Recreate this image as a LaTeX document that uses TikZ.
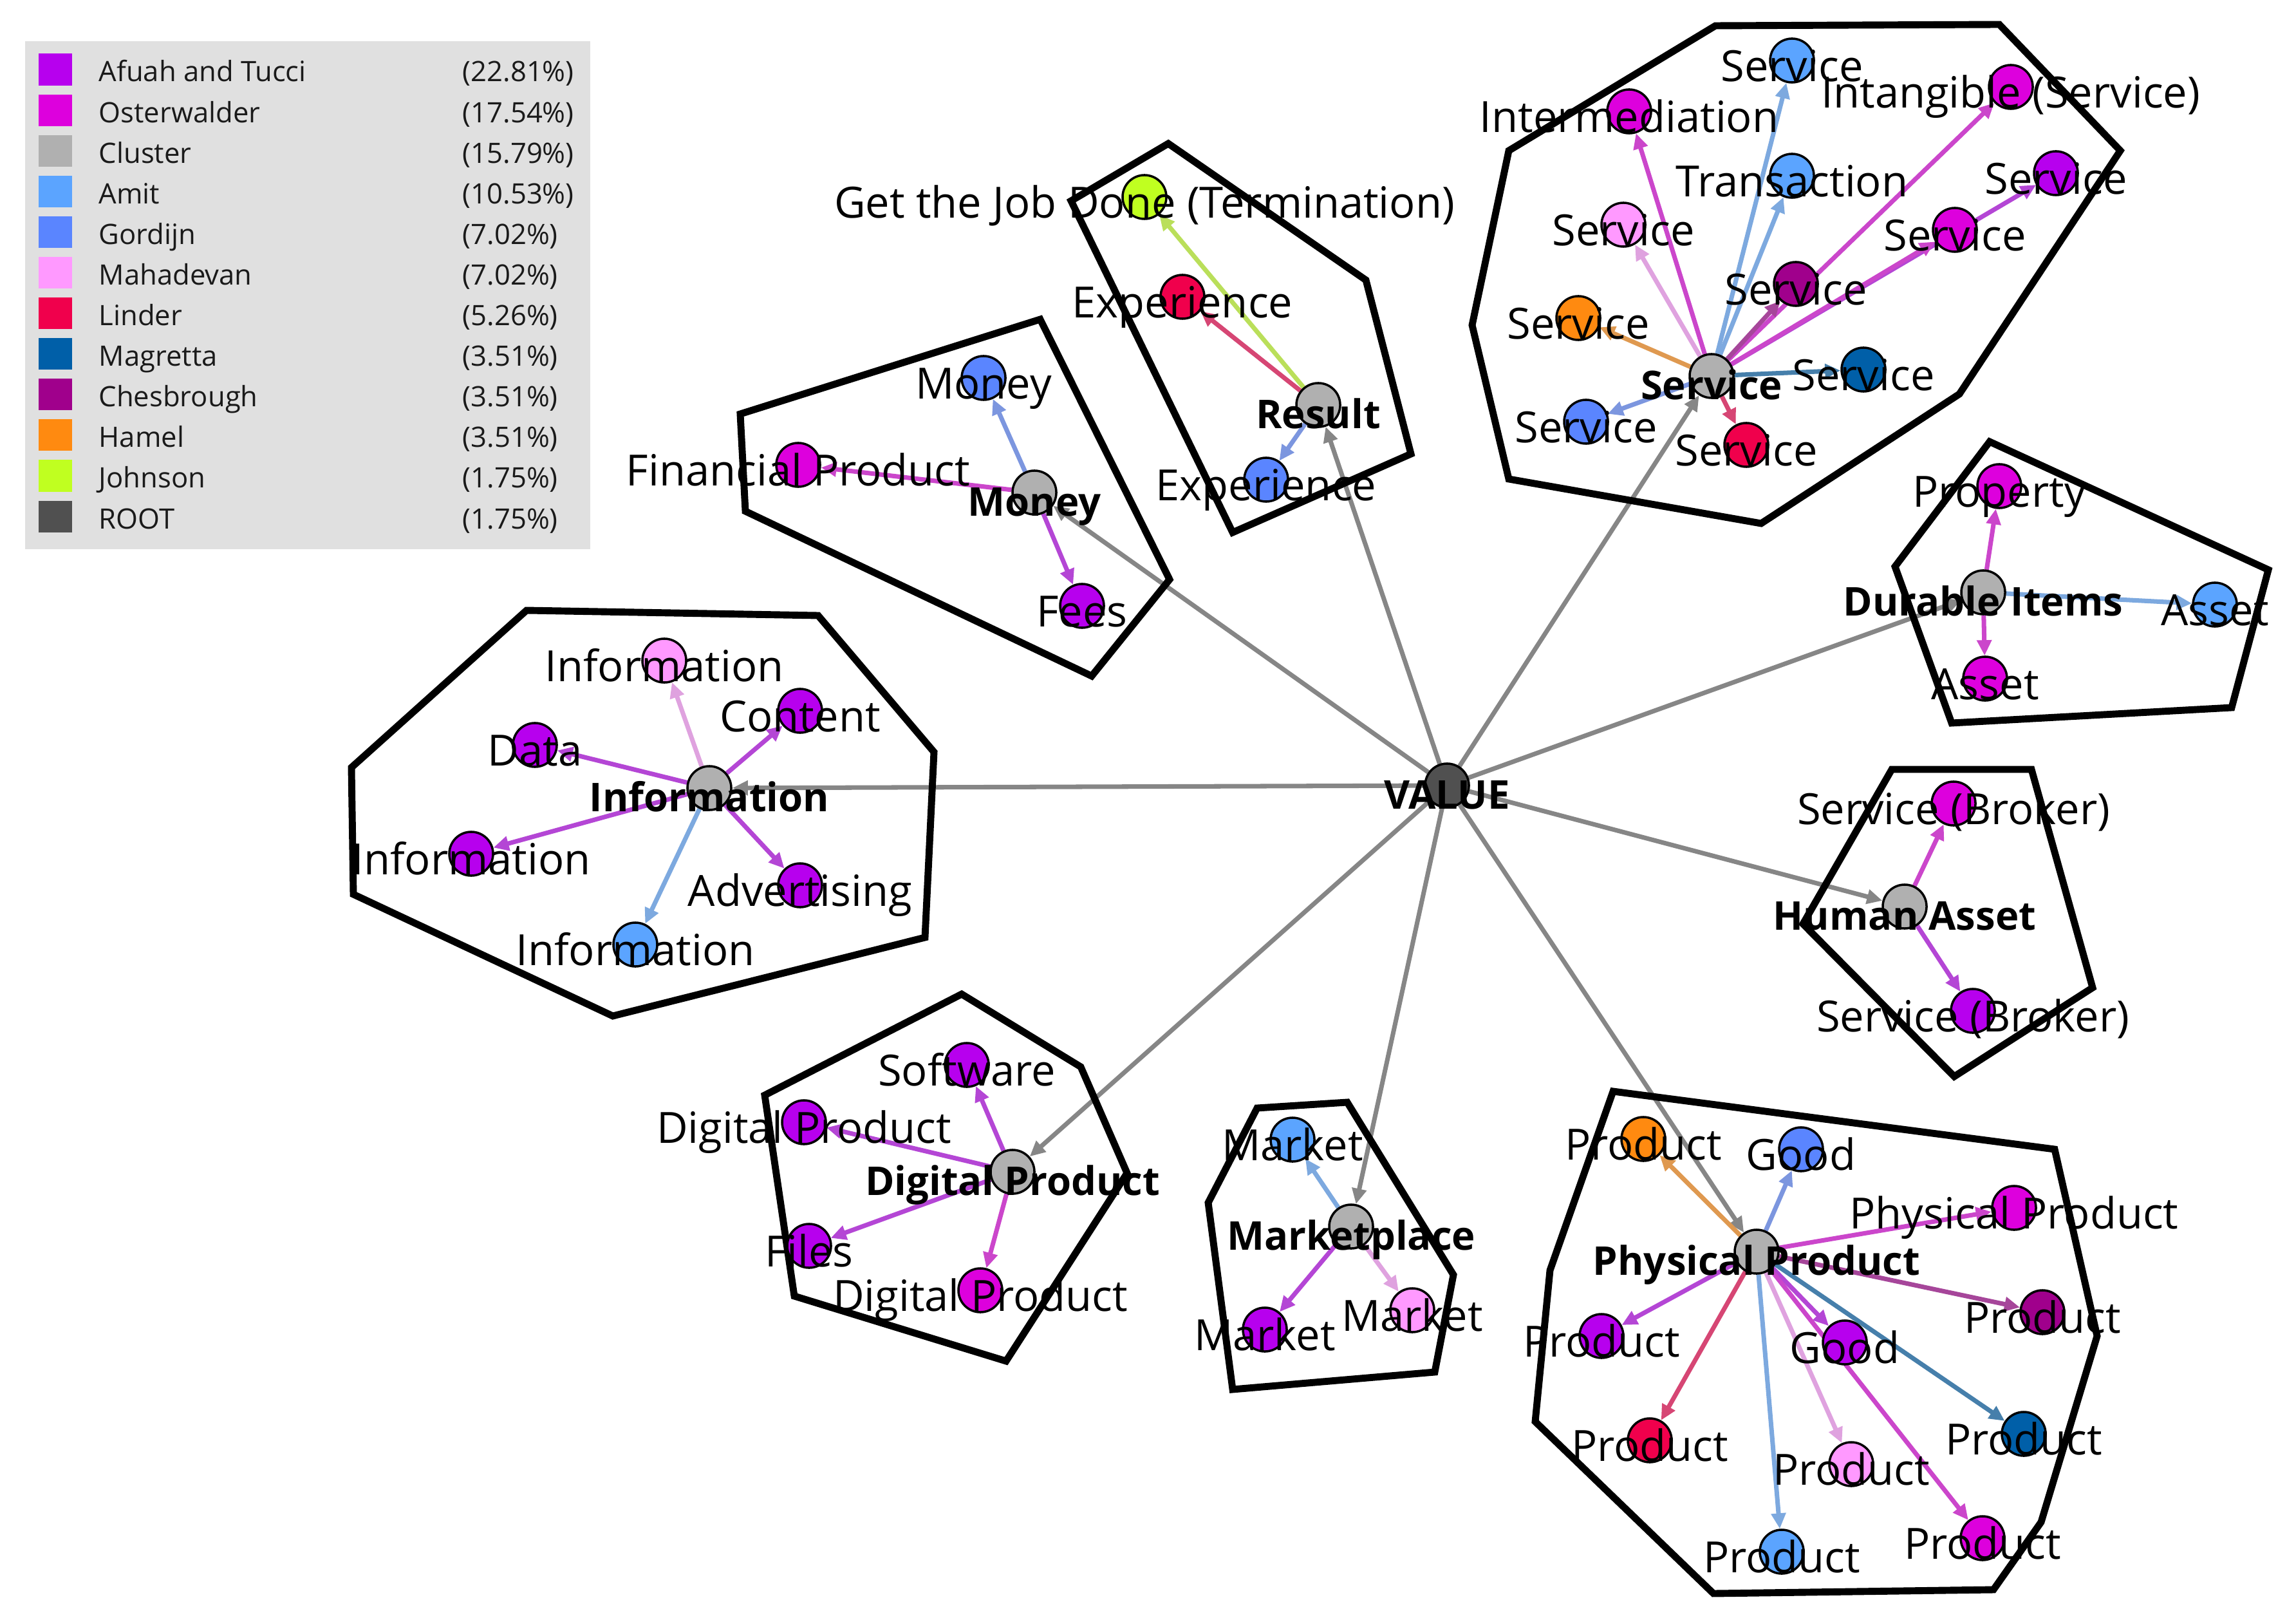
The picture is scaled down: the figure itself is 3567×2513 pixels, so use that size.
\documentclass[tikz,border=0pt]{standalone}
\usepackage{fontspec}
\setmainfont{Open Sans}
\usetikzlibrary{arrows.meta}

\definecolor{afuah}{HTML}{B700EE}
\definecolor{osterwalder}{HTML}{DD00DD}
\definecolor{clust}{HTML}{B0B0B0}
\definecolor{amit}{HTML}{5BA4FF}
\definecolor{gordijn}{HTML}{5A85FF}
\definecolor{mahadevan}{HTML}{FF99FF}
\definecolor{linder}{HTML}{F0004C}
\definecolor{magretta}{HTML}{005FA8}
\definecolor{chesbrough}{HTML}{A0008C}
\definecolor{hamel}{HTML}{FF8A10}
\definecolor{johnson}{HTML}{C0FF20}
\definecolor{rootc}{HTML}{505050}
\definecolor{rootgray}{HTML}{868686}
\definecolor{legbg}{HTML}{E0E0E0}
\definecolor{legink}{HTML}{1A1A1A}

\pgfdeclarelayer{edges}
\pgfsetlayers{edges,main}

\newcommand\lbl{\fontsize{19}{21}\selectfont}
\newcommand\lblbold{\fontsize{17.5}{20}\selectfont\bfseries}
\newcommand\legtxt{\fontsize{12.4}{14}\selectfont}

\tikzset{
  leaf/.style={circle, draw=black, line width=1pt, minimum size=0.68cm, inner sep=0pt, fill=#1},
  hub/.style={leaf=clust},
  tag/.style={font=\lbl, text height=0pt, text depth=0pt, inner sep=0pt, yshift=-0.32cm},
  hubtag/.style={tag, font=\lblbold, yshift=-0.04cm},
  link/.style={draw=#1!60!clust, line width=2pt, -{Triangle[length=0.24cm,width=0.22cm]}},
  rootlink/.style={draw=rootgray, line width=2pt, -{Triangle[length=0.24cm,width=0.22cm]}},
  hull/.style={draw=black, line width=3.1pt, line join=miter},
  swatch/.style={minimum width=0.52cm, minimum height=0.49cm, inner sep=0pt, fill=#1},
  legtext/.style={font=\legtxt, text=legink, anchor=base west, inner sep=0pt},
}

\begin{document}
\begin{tikzpicture}[x=0.01cm, y=-0.01cm]
	\useasboundingbox (0,0) rectangle (3567,2513);

	\fill[legbg] (39,64) rectangle (917,853);
	\foreach \col/\who/\pct [count=\i] in {afuah/Afuah and Tucci/22.81, osterwalder/Osterwalder/17.54, clust/Cluster/15.79, amit/Amit/10.53, gordijn/Gordijn/7.02, mahadevan/Mahadevan/7.02, linder/Linder/5.26, magretta/Magretta/3.51, chesbrough/Chesbrough/3.51, hamel/Hamel/3.51, johnson/Johnson/1.75, rootc/ROOT/1.75}{
		\node[swatch=\col] (sw\i) at (86,{108+63.1*(\i-1)}) {};
		\node[legtext] (lg\i) at (153,{127+63.1*(\i-1)}) {\who};
		\node[legtext] (pc\i) at (718,{127+63.1*(\i-1)}) {(\pct\%)};
	}

	\draw[hull] (1150,643) -- (1616,496) -- (1817,900) -- (1696,1050) -- (1158,794) -- cycle;
	\draw[hull] (1815,223) -- (2122,435) -- (2192,705) -- (1915,827) -- (1664,312) -- cycle;
	\draw[hull] (2665,40) -- (3106,38) -- (3294,234) -- (3044,612) -- (2736,813) -- (2344,744) -- (2287,505) -- (2344,234) -- cycle;
	\draw[hull] (3091,686) -- (3524,885) -- (3467,1099) -- (3032,1123) -- (2944,880) -- cycle;
	\draw[hull] (2939,1195) -- (3156,1195) -- (3251,1534) -- (3036,1672) -- (2801,1435) -- cycle;
	\draw[hull] (818,948) -- (1271,956) -- (1451,1168) -- (1437,1456) -- (952,1578) -- (549,1389) -- (546,1192) -- cycle;
	\draw[hull] (1494,1544) -- (1679,1657) -- (1751,1822) -- (1563,2114) -- (1234,2013) -- (1188,1701) -- cycle;
	\draw[hull] (1953,1721) -- (2093,1712) -- (2258,1980) -- (2229,2131) -- (1915,2158) -- (1877,1868) -- cycle;
	\draw[hull] (2506,1695) -- (3192,1785) -- (3258,2075) -- (3171,2364) -- (3097,2469) -- (2662,2475) -- (2385,2208) -- (2408,1973) -- cycle;

	\node[leaf=rootc, label={[hubtag]center:VALUE}] (value) at (2248,1220) {};

	\node[hub, label={[hubtag]center:Money}] (mon) at (1607,765) {};
	\node[leaf=gordijn, label={[tag]center:Money}] (monMoney) at (1528,587) {};
	\node[leaf=osterwalder, label={[tag]center:Financial Product}] (monFin) at (1240,722) {};
	\node[leaf=afuah, label={[tag]center:Fees}] (monFees) at (1681,941) {};

	\node[hub, label={[hubtag]center:Result}] (res) at (2048,629) {};
	\node[leaf=johnson, label={[tag]center:Get the Job Done (Termination)}] (resJob) at (1778,306) {};
	\node[leaf=linder, label={[tag]center:Experience}] (resExpL) at (1837,461) {};
	\node[leaf=gordijn, label={[tag]center:Experience}] (resExpG) at (1967,745) {};

	\node[hub, label={[hubtag]center:Service}] (srv) at (2659,584) {};
	\node[leaf=amit, label={[tag]center:Service}] (srvAmit) at (2784,94) {};
	\node[leaf=osterwalder, label={[tag]center:Intermediation}] (srvInter) at (2531,173) {};
	\node[leaf=osterwalder, label={[tag]center:Intangible (Service)}] (srvIntang) at (3124,135) {};
	\node[leaf=amit, label={[tag]center:Transaction}] (srvTrans) at (2784,273) {};
	\node[leaf=afuah, label={[tag]center:Service}] (srvAfuah) at (3194,269) {};
	\node[leaf=mahadevan, label={[tag]center:Service}] (srvMaha) at (2522,349) {};
	\node[leaf=osterwalder, label={[tag]center:Service}] (srvOster) at (3037,357) {};
	\node[leaf=chesbrough, label={[tag]center:Service}] (srvChes) at (2790,441) {};
	\node[leaf=hamel, label={[tag]center:Service}] (srvHamel) at (2452,494) {};
	\node[leaf=magretta, label={[tag]center:Service}] (srvMag) at (2895,574) {};
	\node[leaf=gordijn, label={[tag]center:Service}] (srvGor) at (2464,655) {};
	\node[leaf=linder, label={[tag]center:Service}] (srvLin) at (2713,691) {};

	\node[hub, label={[hubtag]center:Durable Items}] (dur) at (3081,920) {};
	\node[leaf=osterwalder, label={[tag]center:Property}] (durProp) at (3106,755) {};
	\node[leaf=amit, label={[tag]center:Asset}] (durAmit) at (3441,939) {};
	\node[leaf=osterwalder, label={[tag]center:Asset}] (durOster) at (3084,1054) {};

	\node[hub, label={[hubtag]center:Human Asset}] (hum) at (2959,1408) {};
	\node[leaf=osterwalder, label={[tag]center:Service (Broker)}] (humOster) at (3035,1248) {};
	\node[leaf=afuah, label={[tag]center:Service (Broker)}] (humAfuah) at (3065,1570) {};

	\node[hub, label={[hubtag]center:Information}] (inf) at (1102,1224) {};
	\node[leaf=mahadevan, label={[tag]center:Information}] (infMaha) at (1032,1026) {};
	\node[leaf=afuah, label={[tag]center:Content}] (infCont) at (1243,1104) {};
	\node[leaf=afuah, label={[tag]center:Data}] (infData) at (831,1157) {};
	\node[leaf=afuah, label={[tag]center:Information}] (infAfuah) at (732,1326) {};
	\node[leaf=afuah, label={[tag]center:Advertising}] (infAdv) at (1243,1375) {};
	\node[leaf=amit, label={[tag]center:Information}] (infAmit) at (987,1467) {};

	\node[hub, label={[hubtag]center:Digital Product}] (dig) at (1573,1820) {};
	\node[leaf=afuah, label={[tag]center:Software}] (digSoft) at (1502,1654) {};
	\node[leaf=afuah, label={[tag]center:Digital Product}] (digAfuah) at (1249,1743) {};
	\node[leaf=afuah, label={[tag]center:Files}] (digFiles) at (1257,1935) {};
	\node[leaf=osterwalder, label={[tag]center:Digital Product}] (digOster) at (1523,2004) {};

	\node[hub, label={[hubtag]center:Marketplace}] (mkt) at (2099,1905) {};
	\node[leaf=amit, label={[tag]center:Market}] (mktAmit) at (2008,1770) {};
	\node[leaf=afuah, label={[tag]center:Market}] (mktAfuah) at (1965,2065) {};
	\node[leaf=mahadevan, label={[tag]center:Market}] (mktMaha) at (2194,2035) {};

	\node[hub, label={[hubtag]center:Physical Product}] (phy) at (2729,1944) {};
	\node[leaf=hamel, label={[tag]center:Product}] (phyHamel) at (2553,1769) {};
	\node[leaf=gordijn, label={[tag]center:Good}] (phyGoodG) at (2798,1785) {};
	\node[leaf=osterwalder, label={[tag]center:Physical Product}] (phyPhys) at (3129,1876) {};
	\node[leaf=afuah, label={[tag]center:Product}] (phyAfuah) at (2488,2075) {};
	\node[leaf=chesbrough, label={[tag]center:Product}] (phyChes) at (3173,2038) {};
	\node[leaf=afuah, label={[tag]center:Good}] (phyGoodA) at (2866,2085) {};
	\node[leaf=linder, label={[tag]center:Product}] (phyLin) at (2563,2237) {};
	\node[leaf=magretta, label={[tag]center:Product}] (phyMag) at (3144,2227) {};
	\node[leaf=mahadevan, label={[tag]center:Product}] (phyMaha) at (2876,2274) {};
	\node[leaf=amit, label={[tag]center:Product}] (phyAmit) at (2768,2410) {};
	\node[leaf=osterwalder, label={[tag]center:Product}] (phyOster) at (3080,2389) {};

	\begin{pgfonlayer}{edges}
		\draw[rootlink] (value) -- (mon);
		\draw[rootlink] (value) -- (res);
		\draw[rootlink] (value) -- (srv);
		\draw[rootlink] (value) -- (dur);
		\draw[rootlink] (value) -- (hum);
		\draw[rootlink] (value) -- (inf);
		\draw[rootlink] (value) -- (dig);
		\draw[rootlink] (value) -- (mkt);
		\draw[rootlink] (value) -- (phy);

		\draw[link=gordijn] (mon) -- (monMoney);
		\draw[link=osterwalder] (mon) -- (monFin);
		\draw[link=afuah] (mon) -- (monFees);

		\draw[link=johnson] (res) -- (resJob);
		\draw[link=linder] (res) -- (resExpL);
		\draw[link=gordijn] (res) -- (resExpG);

		\draw[link=amit] (srv) -- (srvAmit);
		\draw[link=osterwalder] (srv) -- (srvInter);
		\draw[link=osterwalder] (srv) -- (srvIntang);
		\draw[link=amit] (srv) -- (srvTrans);
		\draw[link=afuah] (srv) -- (srvAfuah);
		\draw[link=mahadevan] (srv) -- (srvMaha);
		\draw[link=osterwalder] (srv) -- (srvOster);
		\draw[link=chesbrough] (srv) -- (srvChes);
		\draw[link=hamel] (srv) -- (srvHamel);
		\draw[link=magretta] (srv) -- (srvMag);
		\draw[link=gordijn] (srv) -- (srvGor);
		\draw[link=linder] (srv) -- (srvLin);

		\draw[link=osterwalder] (dur) -- (durProp);
		\draw[link=amit] (dur) -- (durAmit);
		\draw[link=osterwalder] (dur) -- (durOster);

		\draw[link=osterwalder] (hum) -- (humOster);
		\draw[link=afuah] (hum) -- (humAfuah);

		\draw[link=mahadevan] (inf) -- (infMaha);
		\draw[link=afuah] (inf) -- (infCont);
		\draw[link=afuah] (inf) -- (infData);
		\draw[link=afuah] (inf) -- (infAfuah);
		\draw[link=afuah] (inf) -- (infAdv);
		\draw[link=amit] (inf) -- (infAmit);

		\draw[link=afuah] (dig) -- (digSoft);
		\draw[link=afuah] (dig) -- (digAfuah);
		\draw[link=afuah] (dig) -- (digFiles);
		\draw[link=osterwalder] (dig) -- (digOster);

		\draw[link=amit] (mkt) -- (mktAmit);
		\draw[link=afuah] (mkt) -- (mktAfuah);
		\draw[link=mahadevan] (mkt) -- (mktMaha);

		\draw[link=hamel] (phy) -- (phyHamel);
		\draw[link=gordijn] (phy) -- (phyGoodG);
		\draw[link=osterwalder] (phy) -- (phyPhys);
		\draw[link=afuah] (phy) -- (phyAfuah);
		\draw[link=chesbrough] (phy) -- (phyChes);
		\draw[link=afuah] (phy) -- (phyGoodA);
		\draw[link=linder] (phy) -- (phyLin);
		\draw[link=magretta] (phy) -- (phyMag);
		\draw[link=mahadevan] (phy) -- (phyMaha);
		\draw[link=amit] (phy) -- (phyAmit);
		\draw[link=osterwalder] (phy) -- (phyOster);
	\end{pgfonlayer}
\end{tikzpicture}
\end{document}
